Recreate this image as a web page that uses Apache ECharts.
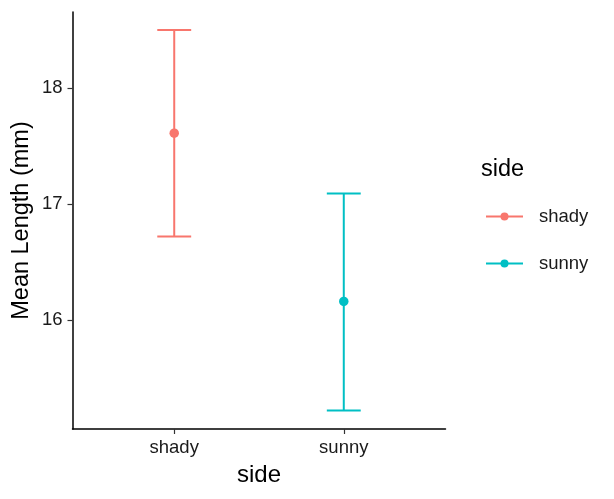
<!DOCTYPE html>
<html>
<head>
<meta charset="utf-8">
<script src="https://cdn.jsdelivr.net/npm/echarts@6/dist/echarts.min.js"></script>
<style>
  html, body { margin: 0; padding: 0; background: #fff; }
  #chart { width: 614px; height: 499px; }
</style>
</head>
<body>
<div id="chart"></div>
<script>
// group means with error bars, ggplot look
var sides = ['shady', 'sunny'];
var means = [17.61, 16.16];
var lower = [16.72, 15.22];
var upper = [18.50, 17.09];
var colors = ['#F8766D', '#00BFC4'];
var yTicks = [16, 17, 18];

var myChart = echarts.init(document.getElementById('chart'));

var font = 'Liberation Sans, Arial, sans-serif';

var barData = sides.map(function (s, i) {
    return [i + 1, lower[i], upper[i], i];
});

var series = [];
sides.forEach(function (s, i) {
    series.push({
        name: s,
        type: 'line',
        data: [[i + 1, means[i]]],
        symbol: 'circle',
        symbolSize: 9.5,
        showSymbol: true,
        color: colors[i],
        lineStyle: { width: 2 },
        z: 5
    });
});

series.push({
    name: 'errorbar',
    type: 'custom',
    data: barData,
    renderItem: function (params, api) {
        var x = api.value(0);
        var lo = api.coord([x, api.value(1)]);
        var hi = api.coord([x, api.value(2)]);
        var half = (api.coord([x + 0.1, 0])[0] - api.coord([x, 0])[0]);
        var style = { stroke: colors[api.value(3)], lineWidth: 2 };
        return {
            type: 'group',
            children: [
                { type: 'line', shape: { x1: lo[0], y1: lo[1], x2: hi[0], y2: hi[1] }, style: style },
                { type: 'line', shape: { x1: lo[0] - half, y1: lo[1], x2: lo[0] + half, y2: lo[1] }, style: style },
                { type: 'line', shape: { x1: hi[0] - half, y1: hi[1], x2: hi[0] + half, y2: hi[1] }, style: style }
            ]
        };
    },
    z: 3
});

var option = {
    animation: false,
    textStyle: { fontFamily: font },
    grid: { left: 72.5, top: 12, right: 168.5, bottom: 70, containLabel: false, outerBoundsMode: 'none' },
    title: {
        text: 'side',
        left: 481,
        top: 158,
        padding: 0,
        textStyle: { fontSize: 23.5, fontWeight: 'normal', color: '#000', fontFamily: font }
    },
    legend: {
        orient: 'vertical',
        left: 485,
        top: 207,
        padding: 0,
        itemWidth: 37,
        itemHeight: 10,
        itemGap: 28,
        data: sides,
        textStyle: { fontSize: 18.5, color: '#1a1a1a', fontFamily: font, padding: [0, 0, 0, 11] }
    },
    xAxis: {
        type: 'value',
        min: 0.4,
        max: 2.6,
        name: 'side',
        nameLocation: 'middle',
        nameGap: 34,
        nameMoveOverlap: false,
        nameTextStyle: { fontSize: 24, color: '#000', fontFamily: font },
        splitLine: { show: false },
        axisLine: { show: true, onZero: false, lineStyle: { color: '#000', width: 1.5 } },
        axisTick: { show: true, length: 5, customValues: [1, 2], lineStyle: { color: '#333', width: 1.2 } },
        axisLabel: {
            customValues: [1, 2],
            margin: 9,
            fontSize: 18.5,
            color: '#1a1a1a',
            formatter: function (v) { return sides[Math.round(v) - 1] || ''; }
        }
    },
    yAxis: {
        type: 'value',
        min: 15.06,
        max: 18.655,
        name: 'Mean Length (mm)',
        nameLocation: 'middle',
        nameGap: 38.5,
        nameMoveOverlap: false,
        nameTextStyle: { fontSize: 23.5, color: '#000', fontFamily: font },
        splitLine: { show: false },
        axisLine: { show: true, onZero: false, lineStyle: { color: '#000', width: 1.5 } },
        axisTick: { show: true, length: 5, customValues: yTicks, lineStyle: { color: '#333', width: 1.2 } },
        axisLabel: {
            customValues: yTicks,
            margin: 10,
            fontSize: 18.5,
            color: '#1a1a1a'
        }
    },
    series: series
};

myChart.setOption(option);
</script>
</body>
</html>
